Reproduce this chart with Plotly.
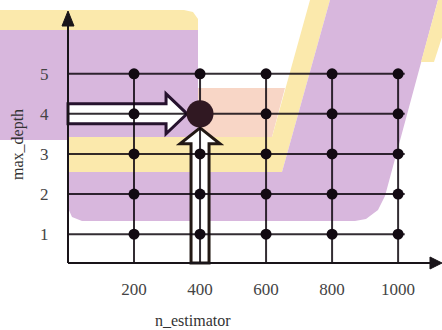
import plotly.graph_objects as go

# ---- data ----
n_estimators = [200, 400, 600, 800, 1000]
max_depths = [1, 2, 3, 4, 5]
x_tick_labels = ["200", "400", "600", "800", "1000"]
y_tick_labels = ["1", "2", "3", "4", "5"]
best_n = 400
best_depth = 4
x_title = "n_estimator"
y_title = "max_depth"

# ---- layout geometry ----
W, H = 442, 330
ML, MB = 68, 67
PW, PH = W - ML, H - MB
XR = [0, 1133]
YR = [0.28, 6.84]

FONT = "Liberation Serif, Times New Roman, serif"


def d2px(x, y):
    px = ML + (x - XR[0]) / (XR[1] - XR[0]) * PW
    py = PH - (y - YR[0]) / (YR[1] - YR[0]) * PH
    return px, py


def px2paper(px, py):
    return (px - ML) / PW, (PH - py) / PH


def path_px(points, close=True):
    s = ""
    for i, (px, py) in enumerate(points):
        x, y = px2paper(px, py)
        s += ("M" if i == 0 else "L") + f"{x:.5f},{y:.5f} "
    if close:
        s += "Z "
    return s


PURPLE = "rgb(216,183,221)"
YELLOW = "rgb(251,233,172)"
SALMON = "rgb(248,214,198)"

shapes = []


def region(points, color):
    shapes.append(dict(type="path", xref="paper", yref="paper", layer="below",
                       path=path_px(points), fillcolor=color,
                       line=dict(width=0)))


# background regions (styling)
region([(0, 10), (184, 10), (193, 12), (198, 19), (198, 30), (0, 30)], YELLOW)
region([(0, 30), (198, 30), (198, 137), (68, 137), (68, 140), (0, 140)], PURPLE)
region([(198, 88), (285, 88), (272, 137), (198, 137)], SALMON)
region([(68, 137), (272, 137), (310, 0), (330, 0), (282, 172), (68, 172)], YELLOW)
region([(330, 0), (438, 0), (385, 196), (378, 210), (366, 219), (355, 221),
        (82, 221), (72, 217), (68, 208), (68, 172), (282, 172)], PURPLE)
region([(438, 0), (454, 0), (434, 62), (421, 62)], YELLOW)

# arrows pointing at the chosen parameter pair
cx, cy = d2px(best_n, best_depth)
AX0 = ML
AXB = PH
ACOL_H = "rgb(38,18,46)"
ACOL_V = "rgb(34,24,20)"
hb = cx - 34
shapes.append(dict(
    type="path", xref="paper", yref="paper", layer="below",
    path=path_px([(AX0, cy - 10), (hb, cy - 10), (hb, cy - 20), (cx - 13, cy),
                  (hb, cy + 20), (hb, cy + 10), (AX0, cy + 10)]),
    fillcolor="white", line=dict(color=ACOL_H, width=3)))
vb = cy + 30
shapes.append(dict(
    type="path", xref="paper", yref="paper", layer="below",
    path=path_px([(cx - 9, AXB), (cx - 9, vb), (cx - 20, vb), (cx, cy + 14),
                  (cx + 20, vb), (cx + 9, vb), (cx + 9, AXB)]),
    fillcolor="white", line=dict(color=ACOL_V, width=3)))

# axis lines with arrow heads
AXC = "rgb(25,20,25)"
shapes.append(dict(type="path", xref="paper", yref="paper", layer="above",
                   path=path_px([(ML, AXB), (432, AXB)], close=False),
                   line=dict(color=AXC, width=2)))
shapes.append(dict(type="path", xref="paper", yref="paper", layer="above",
                   path=path_px([(430, AXB - 6), (442, AXB), (430, AXB + 6)]),
                   fillcolor=AXC, line=dict(color=AXC, width=1)))
shapes.append(dict(type="path", xref="paper", yref="paper", layer="above",
                   path=path_px([(ML, AXB), (ML, 22)], close=False),
                   line=dict(color=AXC, width=2)))
shapes.append(dict(type="path", xref="paper", yref="paper", layer="above",
                   path=path_px([(ML - 6, 26), (ML, 11), (ML + 6, 26)]),
                   fillcolor=AXC, line=dict(color=AXC, width=1)))

# ---- traces: grid of parameter combinations ----
hx, hy = [], []
for d in max_depths:
    hx += [0, max(n_estimators) + 20, None]
    hy += [d, d, None]
vx, vy = [], []
for n in n_estimators:
    vx += [n, n, None]
    vy += [YR[0], max(max_depths), None]

px_all, py_all = [], []
for d in max_depths:
    for n in n_estimators:
        px_all.append(n)
        py_all.append(d)

LINEC = "rgba(15,8,15,0.85)"
fig = go.Figure()
fig.add_trace(go.Scatter(x=hx, y=hy, mode="lines", line=dict(color=LINEC, width=2),
                         hoverinfo="skip", showlegend=False))
fig.add_trace(go.Scatter(x=vx, y=vy, mode="lines", line=dict(color=LINEC, width=2),
                         hoverinfo="skip", showlegend=False))
fig.add_trace(go.Scatter(x=px_all, y=py_all, mode="markers",
                         marker=dict(size=11, color="rgb(18,10,18)"),
                         hoverinfo="skip", showlegend=False))
fig.add_trace(go.Scatter(x=[best_n], y=[best_depth], mode="markers",
                         marker=dict(size=27, color="rgb(48,24,34)"),
                         hoverinfo="skip", showlegend=False))

annotations = [
    dict(text=x_title, xref="paper", yref="paper",
         x=px2paper(193, 0)[0], y=px2paper(0, 321)[1],
         xanchor="center", yanchor="middle", showarrow=False,
         font=dict(family=FONT, size=16, color="#333")),
    dict(text=y_title, xref="paper", yref="paper",
         x=px2paper(18, 0)[0], y=px2paper(0, 145)[1],
         xanchor="center", yanchor="middle", showarrow=False, textangle=-90,
         font=dict(family=FONT, size=16, color="#333")),
]

fig.update_layout(
    width=W, height=H,
    margin=dict(l=ML, r=0, t=0, b=MB, pad=0),
    paper_bgcolor="white", plot_bgcolor="rgba(0,0,0,0)",
    shapes=shapes, annotations=annotations,
    xaxis=dict(range=XR, tickvals=n_estimators, ticktext=x_tick_labels,
               showgrid=False, zeroline=False, showline=False,
               ticks="outside", ticklen=11, tickcolor="rgba(0,0,0,0)",
               tickfont=dict(family=FONT, size=17, color="#444"), fixedrange=True),
    yaxis=dict(range=YR, tickvals=max_depths, ticktext=y_tick_labels,
               showgrid=False, zeroline=False, showline=False,
               ticks="outside", ticklen=15, tickcolor="rgba(0,0,0,0)",
               tickfont=dict(family=FONT, size=17, color="#444"), fixedrange=True),
)

fig.write_html("out.html", config={"displayModeBar": False},
               post_script="document.body.style.margin='0';")
